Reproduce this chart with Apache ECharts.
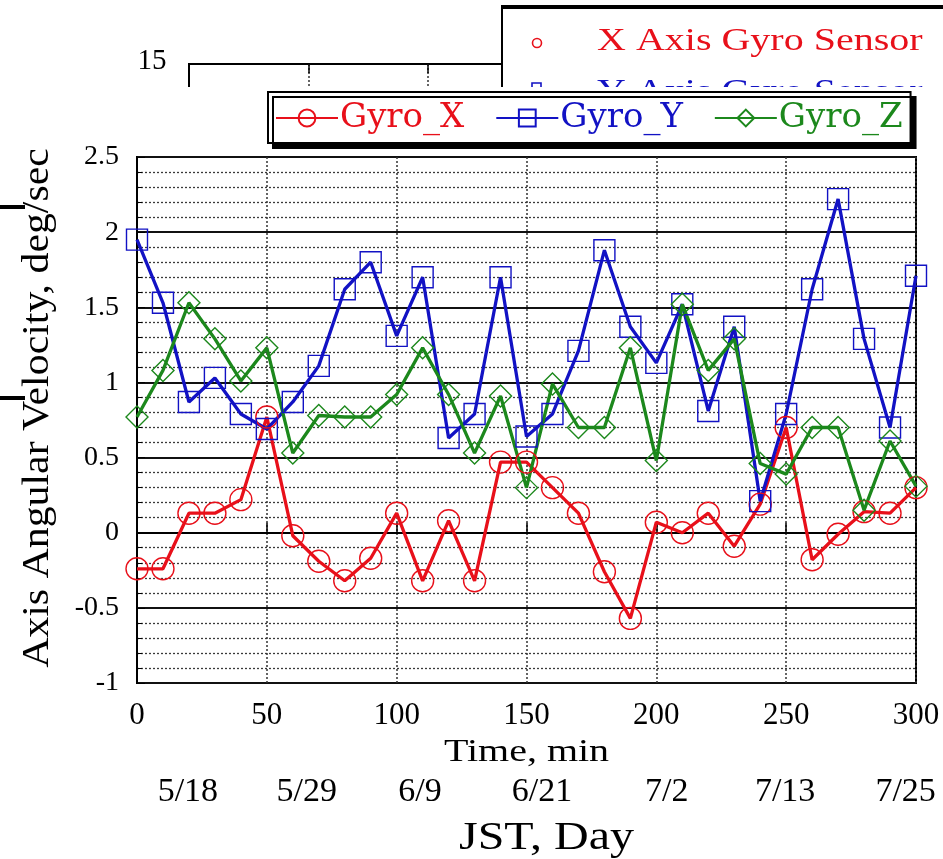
<!DOCTYPE html>
<html>
<head>
<meta charset="utf-8">
<script src="https://cdn.jsdelivr.net/npm/echarts@6/dist/echarts.min.js"></script>
<style>
html,body{margin:0;padding:0;background:#fff;}
#chart{width:943px;height:859px;}
</style>
</head>
<body>
<div id="chart"></div>
<script>
// ---- data ----
const timeMin = [0,10,20,30,40,50,60,70,80,90,100,110,120,130,140,150,160,170,180,190,200,210,220,230,240,250,260,270,280,290,300];
const gyroX = [-0.24,-0.24,0.13,0.13,0.22,0.77,-0.02,-0.19,-0.32,-0.17,0.13,-0.32,0.08,-0.32,0.47,0.47,0.30,0.13,-0.26,-0.57,0.07,0.00,0.13,-0.09,0.19,0.70,-0.18,-0.01,0.14,0.13,0.30];
const gyroY = [1.95,1.53,0.87,1.03,0.79,0.69,0.87,1.11,1.62,1.80,1.31,1.70,0.63,0.79,1.70,0.64,0.79,1.21,1.88,1.37,1.13,1.52,0.81,1.37,0.21,0.79,1.62,2.22,1.29,0.70,1.71];
const gyroZ = [0.77,1.08,1.53,1.29,1.01,1.23,0.53,0.78,0.77,0.77,0.92,1.23,0.92,0.53,0.91,0.30,0.99,0.70,0.70,1.23,0.48,1.52,1.08,1.29,0.46,0.39,0.70,0.70,0.15,0.61,0.31];
const seriesNames = ['Gyro_X','Gyro_Y','Gyro_Z'];
const yTicks = {min:-1, max:2.5, step:0.5};
const xTicks = {min:0, max:300, step:50};
const dateLabels = ['5/18','5/29','6/9','6/21','7/2','7/13','7/25'];
const datePosMin = [19.6,65.4,109,156,204,249.6,296];
const upperLegend = ['X Axis Gyro Sensor','Y Axis Gyro Sensor'];
const upperTick = '15';
const xTitle = 'Time, min';
const yTitle = 'Axis Angular Velocity, deg/sec';
const dateTitle = 'JST, Day';

const RED='#e8101a', BLUE='#1212c4', GREEN='#1c881c';
const COLORS=[RED,BLUE,GREEN];
const SERIF='"Liberation Serif","Times New Roman",serif';

function pairs(ys){ return timeMin.map((t,i)=>[t,ys[i]]); }
function mkSeries(name, ys, color, symbol, size){
  return {
    name, type:'line', data:pairs(ys), symbol, symbolSize:size,
    color, lineStyle:{color, width:3.3},
    itemStyle:{color:'rgba(255,255,255,0)', borderColor:color, borderWidth:1.4},
    emphasis:{disabled:true}, animation:false
  };
}

const chart = echarts.init(document.getElementById('chart'), null, {renderer:'canvas'});
const option = {
  backgroundColor:'#fff',
  animation:false,
  grid:{left:137, right:27, top:157, bottom:176, show:true, borderColor:'#000', borderWidth:2, z:0},
  legend:{
    data:seriesNames.map((n,i)=>({name:n, textStyle:{color:COLORS[i]}})),
    left:268, top:92, orient:'horizontal',
    padding:[9,8,8,7], itemWidth:62, itemHeight:21, itemGap:31,
    backgroundColor:'#fff', borderColor:'#000', borderWidth:2,
    shadowColor:'#000', shadowBlur:0, shadowOffsetX:5, shadowOffsetY:5,
    textStyle:{fontFamily:'"DejaVu Serif",serif', fontSize:34, padding:[0,0,0,-3]},
    selectedMode:false
  },
  xAxis:{
    type:'value', min:xTicks.min, max:xTicks.max, interval:xTicks.step,
    axisLine:{show:true, lineStyle:{color:'#000', width:2}},
    axisTick:{show:true, inside:true, length:10, lineStyle:{color:'#000', width:1.5}},
    axisLabel:{fontFamily:SERIF, fontSize:31, color:'#000', margin:17},
    splitLine:{show:true, lineStyle:{color:'#333', width:1.5, type:[2,2]}}
  },
  yAxis:{
    type:'value', min:yTicks.min, max:yTicks.max, interval:yTicks.step,
    axisLine:{show:true, lineStyle:{color:'#000', width:2}},
    axisTick:{show:true, inside:true, length:8, lineStyle:{color:'#000'}},
    minorTick:{show:true, splitNumber:5, length:5, lineStyle:{color:'#000'}},
    axisLabel:{fontFamily:SERIF, fontSize:28, color:'#000', margin:18},
    splitLine:{show:true, lineStyle:{color:'#111', width:1.8}},
    minorSplitLine:{show:true, lineStyle:{color:'#3a3a3a', width:1.3, type:[2,2]}}
  },
  series:[
    mkSeries(seriesNames[0], gyroX, RED, 'circle', 22),
    mkSeries(seriesNames[1], gyroY, BLUE, 'rect', 21),
    mkSeries(seriesNames[2], gyroZ, GREEN, 'diamond', [22,22])
  ]
};
chart.setOption(option);

// graphics: titles, date row, upper overlapped chart fragments, edge marks
const g = [];
const midX = chart.convertToPixel({xAxisIndex:0}, (xTicks.min+xTicks.max)/2);
const midY = chart.convertToPixel({yAxisIndex:0}, (yTicks.min+yTicks.max)/2);
g.push({type:'text', x:midX, y:753, z:10, scaleX:1.25, style:{text:xTitle, fontFamily:SERIF, fontSize:32, fill:'#000', align:'center', verticalAlign:'middle'}});
g.push({type:'text', x:38, y:midY-12, z:10, rotation:Math.PI/2, scaleX:1.1, style:{text:yTitle, fontFamily:SERIF, fontSize:38, fill:'#000', align:'center', verticalAlign:'middle'}});
dateLabels.forEach((d,i)=>{
  const px = chart.convertToPixel({xAxisIndex:0}, datePosMin[i]);
  g.push({type:'text', x:px, y:792, z:10, style:{text:d, fontFamily:SERIF, fontSize:34, fill:'#000', align:'center', verticalAlign:'middle'}});
});
g.push({type:'text', x:midX+20, y:838, z:10, scaleX:1.2, style:{text:dateTitle, fontFamily:SERIF, fontSize:40, fill:'#000', align:'center', verticalAlign:'middle'}});
// upper chart fragment
g.push({type:'text', x:152, y:61, z:1, style:{text:upperTick, fontFamily:SERIF, fontSize:29, fill:'#000', align:'center', verticalAlign:'middle'}});
g.push({type:'polyline', z:1, shape:{points:[[189,87],[189,64],[503,64]]}, style:{stroke:'#000', lineWidth:2, fill:null}});
g.push({type:'line', z:1, shape:{x1:309,y1:64,x2:309,y2:87}, style:{stroke:'#333', lineWidth:1.5, lineDash:[2,2]}});
g.push({type:'line', z:1, shape:{x1:428,y1:64,x2:428,y2:87}, style:{stroke:'#333', lineWidth:1.5, lineDash:[2,2]}});
g.push({type:'line', z:1, shape:{x1:309,y1:64,x2:309,y2:73}, style:{stroke:'#000', lineWidth:1.5}});
g.push({type:'line', z:1, shape:{x1:428,y1:64,x2:428,y2:73}, style:{stroke:'#000', lineWidth:1.5}});
g.push({type:'rect', z:1, shape:{x:502,y:6,width:460,height:120}, style:{fill:'#fff', stroke:'#000', lineWidth:2}});
g.push({type:'line', z:1, shape:{x1:502,y1:7,x2:943,y2:7}, style:{stroke:'#000', lineWidth:4}});
g.push({type:'circle', z:1, shape:{cx:537,cy:43,r:4.5}, style:{fill:'none', stroke:RED, lineWidth:1.6}});
g.push({type:'text', x:597, y:42, z:1, scaleX:1.25, style:{text:upperLegend[0], fontFamily:SERIF, fontSize:32, fill:RED, align:'left', verticalAlign:'middle'}});
g.push({type:'rect', z:1, shape:{x:532,y:83,width:9,height:9}, style:{fill:'none', stroke:BLUE, lineWidth:1.6}});
g.push({type:'text', x:597, y:93, z:1, scaleX:1.25, style:{text:upperLegend[1], fontFamily:SERIF, fontSize:32, fill:BLUE, align:'left', verticalAlign:'middle'}});
// white cover for the lower pasted figure
g.push({type:'rect', z:2, shape:{x:180,y:87,width:763,height:60}, style:{fill:'#fff'}});
// edge marks at far left
g.push({type:'rect', z:2, shape:{x:0,y:205,width:25,height:4}, style:{fill:'#000'}});
g.push({type:'rect', z:2, shape:{x:0,y:396,width:25,height:4}, style:{fill:'#000'}});
chart.setOption({graphic:g});
</script>
</body>
</html>
